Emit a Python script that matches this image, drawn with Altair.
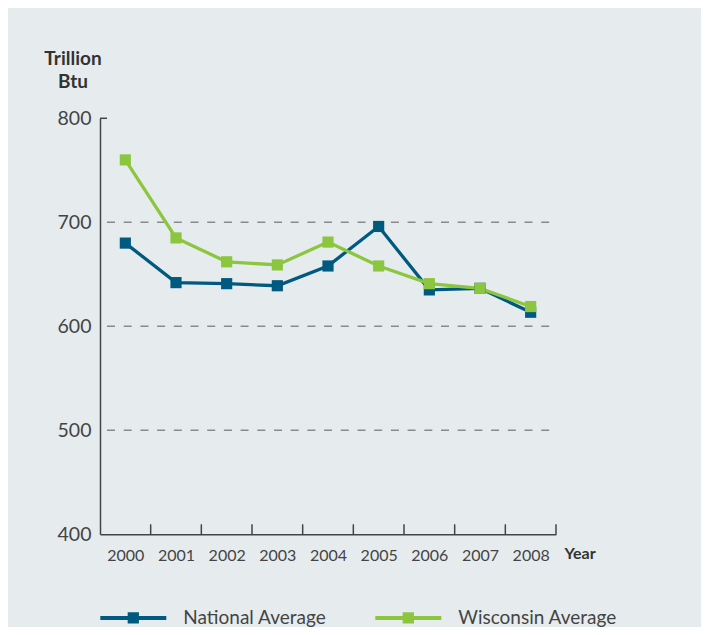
import altair as alt
import pandas as pd

years = [2000, 2001, 2002, 2003, 2004, 2005, 2006, 2007, 2008]
national = [680, 642, 641, 639, 658, 696, 635, 636.5, 613.5]
wisconsin = [760, 685, 662, 659, 681, 658, 641, 636.5, 619]
series_names = ["National Average", "Wisconsin Average"]
series_colors = ["#005a7f", "#8cc63f"]
y_ticks = [400, 500, 600, 700, 800]
grid_values = [500, 600, 700]
band_edges = [2000.5, 2001.5, 2002.5, 2003.5, 2004.5, 2005.5, 2006.5, 2007.5, 2008.5]

rows = []
for yr, v in zip(years, national):
    rows.append({"Year": yr, "Value": v, "Series": series_names[0]})
for yr, v in zip(years, wisconsin):
    rows.append({"Year": yr, "Value": v, "Series": series_names[1]})
df = pd.DataFrame(rows)

W, H = 456, 416
FONT = "Lato"

xscale = alt.Scale(domain=[1999.5, 2008.5], nice=False, zero=False)
yscale = alt.Scale(domain=[400, 800], nice=False, zero=False)
cscale = alt.Scale(domain=series_names, range=series_colors)

x_enc = alt.X(
    "Year:Q", scale=xscale,
    axis=alt.Axis(
        values=years, format="d", ticks=False, tickSize=0, grid=False,
        domainColor="#444444", domainWidth=1.5,
        labelFont=FONT, labelFontSize=16, labelColor="#444444",
        labelBaseline="alphabetic", labelPadding=26, labelFlush=False,
        title="Year", titleFont=FONT, titleFontSize=16, titleFontWeight="bold",
        titleColor="#333333", titleAlign="left", titleBaseline="alphabetic",
        titleX=464, titleY=24, titleAnchor="start",
    ),
)
y_enc = alt.Y(
    "Value:Q", scale=yscale,
    axis=alt.Axis(
        values=y_ticks, ticks=False, tickSize=0, grid=False,
        domainColor="#444444", domainWidth=1.5,
        labelFont=FONT, labelFontSize=19.5, labelColor="#444444",
        labelPadding=9, labelFlush=False,
        title=["Trillion", "Btu"], titleFont=FONT, titleFontSize=19,
        titleFontWeight="bold", titleColor="#333333", titleAngle=0,
        titleAlign="center", titleBaseline="alphabetic", titleLineHeight=23.3,
        titleX=-27.5, titleY=-54.3,
    ),
)

base = alt.Chart(df)

grid = alt.Chart(pd.DataFrame({"g": grid_values})).mark_rule(
    color="#8a8a8a", strokeWidth=1.5, strokeDash=[8, 8.7], strokeDashOffset=9.7
).encode(
    y=alt.Y("g:Q", scale=yscale),
    x=alt.datum(1999.5),
    x2=alt.datum(2008.5),
)

ticks = alt.Chart(pd.DataFrame({"e": band_edges})).mark_rule(
    color="#444444", strokeWidth=1.5
).encode(
    x=alt.X("e:Q", scale=xscale),
    y=alt.datum(400),
    y2=alt.value(H - 10),
)

top_tick = alt.Chart(pd.DataFrame({"t": [800]})).mark_rule(
    color="#444444", strokeWidth=1.5
).encode(
    y=alt.Y("t:Q", scale=yscale),
    x=alt.datum(1999.5),
    x2=alt.value(7),
)

lines = base.mark_line(strokeWidth=3.3).encode(
    x=x_enc, y=y_enc,
    stroke=alt.Stroke("Series:N", scale=cscale, legend=alt.Legend(title=None)),
    detail="Series:N",
)

points = base.mark_point(shape="square", filled=True, size=125, opacity=1).encode(
    x=alt.X("Year:Q", scale=xscale),
    y=alt.Y("Value:Q", scale=yscale),
    fill=alt.Fill("Series:N", scale=cscale, legend=alt.Legend(title=None)),
)

chart = alt.layer(grid, ticks, top_tick, lines, points).properties(
    width=W, height=H,
    autosize=alt.AutoSizeParams(type="none"),
    padding={"left": 92, "top": 110.3, "right": 145, "bottom": 92.7},
    background="#e6ecee",
).configure_view(
    stroke=None,
).configure_legend(
    orient="none", legendX=-1.7, legendY=464.5, direction="horizontal",
    symbolType="M-1,0H1M-0.11,-0.11H0.11V0.11H-0.11Z", symbolSize=4356,
    symbolStrokeWidth=4, labelFont=FONT, labelFontSize=19, labelColor="#444444",
    labelOffset=15, columnPadding=40, labelLimit=400, padding=0,
)

chart.save("out.html", embed_options={"renderer": "svg", "actions": False})
